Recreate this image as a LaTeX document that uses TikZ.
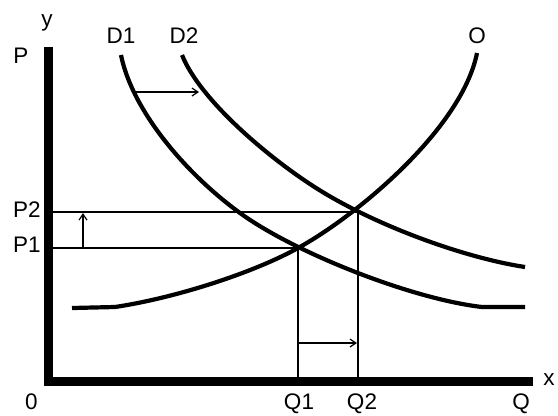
\documentclass[tikz,border=0pt]{standalone}
\usepackage{fontspec}
\setmainfont{Liberation Sans}
\usetikzlibrary{arrows.meta}
\begin{document}
\begin{tikzpicture}[x=1bp,y=-1bp,
  lbl/.style={anchor=base,inner sep=0pt,font=\fontsize{22.5bp}{27bp}\selectfont},
  curve/.style={line width=4.2bp,line join=round},
  axisline/.style={line width=9bp,line join=miter},
  guide/.style={line width=1.2bp},
  shiftarrow/.style={line width=1.2bp,-{Straight Barb[length=6bp,width=8bp]}}]
\useasboundingbox (0,0) rectangle (558,415);
% key points
\coordinate (top) at (48,47);
\coordinate (origin) at (48,381);
\coordinate (xend) at (533,381);
\coordinate (E1) at (298,248);
\coordinate (E2) at (358,212);
\coordinate (P1L) at (52,248);
\coordinate (P2L) at (52,212);
\coordinate (Q1B) at (298,377);
\coordinate (Q2B) at (358,377);
% axes
\draw[axisline] (top) -- (origin) -- (xend);
% guide lines
\draw[guide] (P2L) -- (E2) -- (Q2B);
\draw[guide] (P1L) -- (E1) -- (Q1B);
% supply curve O
\draw[curve] (72,308) -- (115,307)
  .. controls (175,298) and (253,273) .. (E1)
  .. controls (358,215) and (462,128) .. (477,53);
% demand curve D1
\draw[curve] (121,55) .. controls (132,110) and (185,173) .. (240,213)
  .. controls (295,253) and (412,299) .. (482,307) -- (525,307);
% demand curve D2
\draw[curve] (182,55) .. controls (200,100) and (268,157) .. (313,186)
  .. controls (373,225) and (465,258) .. (525,267);
% shift arrows
\coordinate (a1s) at (135,92); \coordinate (a1e) at (199,92);
\coordinate (a2s) at (83,248); \coordinate (a2e) at (83,213);
\coordinate (a3s) at (298,343); \coordinate (a3e) at (357,343);
\draw[shiftarrow] (a1s) -- (a1e);
\draw[shiftarrow] (a2s) -- (a2e);
\draw[shiftarrow] (a3s) -- (a3e);
% labels
\node[lbl] (ly) at (47,26) {y};
\node[lbl] (lP) at (21,63) {P};
\node[lbl] (lD1) at (121,43.5) {D1};
\node[lbl] (lD2) at (184,43.5) {D2};
\node[lbl] (lO) at (477,43.5) {O};
\node[lbl] (lP2) at (27,217) {P2};
\node[lbl] (lP1) at (27,252) {P1};
\node[lbl] (l0) at (31.5,409) {0};
\node[lbl] (lQ1) at (299,409) {Q1};
\node[lbl] (lQ2) at (362,409) {Q2};
\node[lbl] (lQ) at (521,409) {Q};
\node[lbl] (lx) at (549,385) {x};
\end{tikzpicture}
\end{document}
